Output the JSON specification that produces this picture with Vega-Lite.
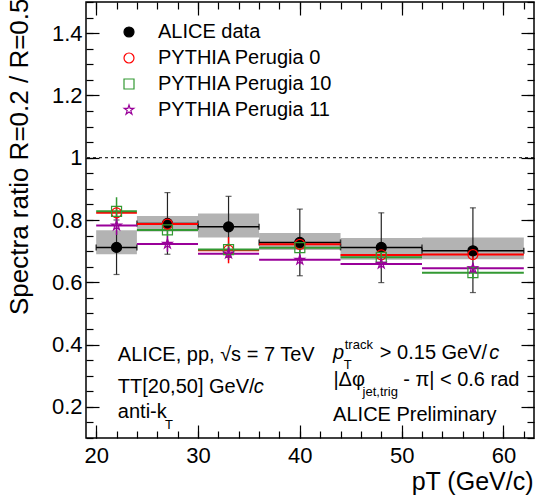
{
  "$schema": "https://vega.github.io/schema/vega-lite/v6.json",
  "width": 448,
  "height": 436,
  "autosize": {"type": "none"},
  "padding": {"left": 86, "top": 2, "right": 3, "bottom": 65},
  "background": "white",
  "config": {
    "font": "Liberation Sans",
    "view": {"stroke": "black", "strokeWidth": 1.5},
    "axis": {"grid": false, "labelColor": "black", "titleColor": "black", "tickColor": "black", "titleFontWeight": "normal"},
    "legend": {
      "orient": "none", "legendX": 33, "legendY": 20, "padding": 0,
      "labelFontSize": 20, "labelColor": "black", "labelOffset": 19, "labelLimit": 400,
      "rowPadding": 6, "symbolSize": 100, "symbolStrokeWidth": 1.2
    }
  },
  "datasets": {
    "points": [
      {"series": "ALICE data", "x": 22, "xlo": 20, "xhi": 24, "y": 0.712, "lo": 0.625, "hi": 0.800, "syslo": 0.690, "syshi": 0.767},
      {"series": "ALICE data", "x": 27, "xlo": 24, "xhi": 30, "y": 0.789, "lo": 0.690, "hi": 0.888, "syslo": 0.763, "syshi": 0.813},
      {"series": "ALICE data", "x": 33, "xlo": 30, "xhi": 36, "y": 0.778, "lo": 0.680, "hi": 0.876, "syslo": 0.744, "syshi": 0.821},
      {"series": "ALICE data", "x": 40, "xlo": 36, "xhi": 44, "y": 0.728, "lo": 0.621, "hi": 0.835, "syslo": 0.704, "syshi": 0.758},
      {"series": "ALICE data", "x": 48, "xlo": 44, "xhi": 52, "y": 0.712, "lo": 0.599, "hi": 0.823, "syslo": 0.672, "syshi": 0.742},
      {"series": "ALICE data", "x": 57, "xlo": 52, "xhi": 62, "y": 0.701, "lo": 0.567, "hi": 0.839, "syslo": 0.674, "syshi": 0.744},
      {"series": "PYTHIA Perugia 0", "x": 22, "xlo": 20, "xhi": 24, "y": 0.823, "lo": 0.803, "hi": 0.843},
      {"series": "PYTHIA Perugia 0", "x": 27, "xlo": 24, "xhi": 30, "y": 0.787, "lo": 0.767, "hi": 0.807},
      {"series": "PYTHIA Perugia 0", "x": 33, "xlo": 30, "xhi": 36, "y": 0.703, "lo": 0.661, "hi": 0.745},
      {"series": "PYTHIA Perugia 0", "x": 40, "xlo": 36, "xhi": 44, "y": 0.722, "lo": 0.707, "hi": 0.737},
      {"series": "PYTHIA Perugia 0", "x": 48, "xlo": 44, "xhi": 52, "y": 0.688, "lo": 0.673, "hi": 0.703},
      {"series": "PYTHIA Perugia 0", "x": 57, "xlo": 52, "xhi": 62, "y": 0.689, "lo": 0.674, "hi": 0.704},
      {"series": "PYTHIA Perugia 10", "x": 22, "xlo": 20, "xhi": 24, "y": 0.828, "lo": 0.783, "hi": 0.873},
      {"series": "PYTHIA Perugia 10", "x": 27, "xlo": 24, "xhi": 30, "y": 0.768, "lo": 0.748, "hi": 0.788},
      {"series": "PYTHIA Perugia 10", "x": 33, "xlo": 30, "xhi": 36, "y": 0.705, "lo": 0.685, "hi": 0.725},
      {"series": "PYTHIA Perugia 10", "x": 40, "xlo": 36, "xhi": 44, "y": 0.711, "lo": 0.696, "hi": 0.726},
      {"series": "PYTHIA Perugia 10", "x": 48, "xlo": 44, "xhi": 52, "y": 0.680, "lo": 0.665, "hi": 0.695},
      {"series": "PYTHIA Perugia 10", "x": 57, "xlo": 52, "xhi": 62, "y": 0.631, "lo": 0.611, "hi": 0.651},
      {"series": "PYTHIA Perugia 11", "x": 22, "xlo": 20, "xhi": 24, "y": 0.782, "lo": 0.752, "hi": 0.812},
      {"series": "PYTHIA Perugia 11", "x": 27, "xlo": 24, "xhi": 30, "y": 0.723, "lo": 0.698, "hi": 0.748},
      {"series": "PYTHIA Perugia 11", "x": 33, "xlo": 30, "xhi": 36, "y": 0.692, "lo": 0.672, "hi": 0.712},
      {"series": "PYTHIA Perugia 11", "x": 40, "xlo": 36, "xhi": 44, "y": 0.672, "lo": 0.657, "hi": 0.687},
      {"series": "PYTHIA Perugia 11", "x": 48, "xlo": 44, "xhi": 52, "y": 0.659, "lo": 0.644, "hi": 0.674},
      {"series": "PYTHIA Perugia 11", "x": 57, "xlo": 52, "xhi": 62, "y": 0.645, "lo": 0.630, "hi": 0.660}
    ],
    "textNormal": [
      {"x": 22.13, "y": 0.348, "text": "ALICE, pp, √s = 7 TeV"},
      {"x": 22.13, "y": 0.2434, "text": "TT[20,50] GeV/"},
      {"x": 22.13, "y": 0.1644, "text": "anti-k"},
      {"x": 47.86, "y": 0.3537, "text": "> 0.15 GeV/"},
      {"x": 43.3, "y": 0.268, "text": "|Δφ"},
      {"x": 50.15, "y": 0.268, "text": "- π| < 0.6 rad"},
      {"x": 43.27, "y": 0.1535, "text": "ALICE Preliminary"}
    ],
    "textItalic": [
      {"x": 35.48, "y": 0.2434, "text": "c"},
      {"x": 43.27, "y": 0.3537, "text": "p"},
      {"x": 58.6, "y": 0.3537, "text": "c"}
    ],
    "textSmall": [
      {"x": 26.75, "y": 0.128, "text": "T"},
      {"x": 44.32, "y": 0.3217, "text": "T"},
      {"x": 44.41, "y": 0.3859, "text": "track"},
      {"x": 46.16, "y": 0.2337, "text": "jet,trig"}
    ]
  },
  "resolve": {"axis": {"x": "independent", "y": "independent"}},
  "layer": [
    {
      "data": {"name": "points"},
      "transform": [{"filter": "datum.series === 'ALICE data'"}],
      "mark": {"type": "rect", "fill": "#b3b3b3"},
      "encoding": {
        "x": {"field": "xlo", "type": "quantitative", "scale": {"domain": [19, 63], "nice": false, "zero": false},
          "axis": {"orient": "bottom", "values": [20, 30, 40, 50, 60], "ticks": false, "domain": false, "labelFontSize": 22, "labelPadding": 7,
            "title": "pT (GeV/c)", "titleFontSize": 25, "titleAnchor": "end", "titleAlign": "right", "titleBaseline": "alphabetic", "titleX": 447, "titleY": 51}},
        "x2": {"field": "xhi"},
        "y": {"field": "syslo", "type": "quantitative", "scale": {"domain": [0.1, 1.5], "nice": false, "zero": false},
          "axis": {"orient": "left", "values": [0.2, 0.4, 0.6, 0.8, 1, 1.2, 1.4], "format": "~g", "ticks": false, "domain": false, "labelFontSize": 22, "labelPadding": 4,
            "title": "Spectra ratio R=0.2 / R=0.5", "titleFontSize": 26, "titleAngle": -90, "titleAnchor": "end", "titleAlign": "right", "titleBaseline": "alphabetic", "titleX": -59, "titleY": -4}},
        "y2": {"field": "syshi"}
      }
    },
    {
      "data": {"values": [{"ref": 1}]},
      "mark": {"type": "rule", "color": "black", "strokeWidth": 1, "strokeDash": [3, 3]},
      "encoding": {
        "y": {"field": "ref", "type": "quantitative", "scale": {"domain": [0.1, 1.5], "nice": false, "zero": false},
          "axis": {"orient": "left", "values": [0.2, 0.4, 0.6, 0.8, 1, 1.2, 1.4], "labels": false, "domain": false, "title": null, "tickSize": 13, "offset": -13, "tickWidth": 1.2}}
      }
    },
    {
      "data": {"name": "points"},
      "transform": [{"filter": "datum.series === 'ALICE data'"}],
      "mark": {"type": "rule", "color": "black", "strokeWidth": 1.5},
      "encoding": {
        "x": {"field": "xlo", "type": "quantitative", "scale": {"domain": [19, 63], "nice": false, "zero": false},
          "axis": {"orient": "bottom", "values": [20, 30, 40, 50, 60], "labels": false, "domain": false, "title": null, "tickSize": 13, "offset": -13, "tickWidth": 1.2}},
        "x2": {"field": "xhi"},
        "y": {"field": "y", "type": "quantitative", "scale": {"domain": [0.1, 1.5], "nice": false, "zero": false},
          "axis": {"orient": "left", "values": [0.1, 0.15, 0.2, 0.25, 0.3, 0.35, 0.4, 0.45, 0.5, 0.55, 0.6, 0.65, 0.7, 0.75, 0.8, 0.85, 0.9, 0.95, 1, 1.05, 1.1, 1.15, 1.2, 1.25, 1.3, 1.35, 1.4, 1.45, 1.5], "labels": false, "domain": false, "title": null, "tickSize": 7, "offset": -7, "tickWidth": 1.2}}
      }
    },
    {
      "data": {"name": "points"},
      "transform": [{"filter": "datum.series === 'ALICE data'"}],
      "mark": {"type": "tick", "orient": "vertical", "color": "black", "size": 6, "thickness": 1.5},
      "encoding": {
        "x": {"field": "xlo", "type": "quantitative", "scale": {"domain": [19, 63], "nice": false, "zero": false},
          "axis": {"orient": "bottom", "values": [20, 22, 24, 26, 28, 30, 32, 34, 36, 38, 40, 42, 44, 46, 48, 50, 52, 54, 56, 58, 60, 62], "labels": false, "domain": false, "title": null, "tickSize": 7, "offset": -7, "tickWidth": 1.2}},
        "y": {"field": "y", "type": "quantitative", "scale": {"domain": [0.1, 1.5], "nice": false, "zero": false},
          "axis": {"orient": "right", "values": [0.2, 0.4, 0.6, 0.8, 1, 1.2, 1.4], "labels": false, "domain": false, "title": null, "tickSize": 13, "offset": -13, "tickWidth": 1.2}}
      }
    },
    {
      "data": {"name": "points"},
      "transform": [{"filter": "datum.series === 'ALICE data'"}],
      "mark": {"type": "tick", "orient": "vertical", "color": "black", "size": 6, "thickness": 1.5},
      "encoding": {
        "x": {"field": "xhi", "type": "quantitative", "scale": {"domain": [19, 63], "nice": false, "zero": false},
          "axis": {"orient": "top", "values": [20, 30, 40, 50, 60], "labels": false, "domain": false, "title": null, "tickSize": 13, "offset": -13, "tickWidth": 1.2}},
        "y": {"field": "y", "type": "quantitative", "scale": {"domain": [0.1, 1.5], "nice": false, "zero": false},
          "axis": {"orient": "right", "values": [0.1, 0.15, 0.2, 0.25, 0.3, 0.35, 0.4, 0.45, 0.5, 0.55, 0.6, 0.65, 0.7, 0.75, 0.8, 0.85, 0.9, 0.95, 1, 1.05, 1.1, 1.15, 1.2, 1.25, 1.3, 1.35, 1.4, 1.45, 1.5], "labels": false, "domain": false, "title": null, "tickSize": 7, "offset": -7, "tickWidth": 1.2}}
      }
    },
    {
      "data": {"name": "points"},
      "transform": [{"filter": "datum.series === 'ALICE data'"}],
      "mark": {"type": "rule", "color": "#222222", "strokeWidth": 1.2},
      "encoding": {
        "x": {"field": "x", "type": "quantitative", "scale": {"domain": [19, 63], "nice": false, "zero": false},
          "axis": {"orient": "top", "values": [20, 22, 24, 26, 28, 30, 32, 34, 36, 38, 40, 42, 44, 46, 48, 50, 52, 54, 56, 58, 60, 62], "labels": false, "domain": false, "title": null, "tickSize": 7, "offset": -7, "tickWidth": 1.2}},
        "y": {"field": "lo", "type": "quantitative", "scale": {"domain": [0.1, 1.5], "nice": false, "zero": false}, "axis": null},
        "y2": {"field": "hi"}
      }
    },
    {
      "data": {"name": "points"},
      "transform": [{"filter": "datum.series === 'ALICE data'"}],
      "mark": {"type": "tick", "orient": "horizontal", "color": "#222222", "size": 6, "thickness": 1.2},
      "encoding": {
        "x": {"field": "x", "type": "quantitative", "scale": {"domain": [19, 63], "nice": false, "zero": false}, "axis": null},
        "y": {"field": "lo", "type": "quantitative", "scale": {"domain": [0.1, 1.5], "nice": false, "zero": false}, "axis": null}
      }
    },
    {
      "data": {"name": "points"},
      "transform": [{"filter": "datum.series === 'ALICE data'"}],
      "mark": {"type": "tick", "orient": "horizontal", "color": "#222222", "size": 6, "thickness": 1.2},
      "encoding": {
        "x": {"field": "x", "type": "quantitative", "scale": {"domain": [19, 63], "nice": false, "zero": false}, "axis": null},
        "y": {"field": "hi", "type": "quantitative", "scale": {"domain": [0.1, 1.5], "nice": false, "zero": false}, "axis": null}
      }
    },
    {
      "data": {"name": "points"},
      "transform": [{"filter": "datum.series !== 'ALICE data'"}],
      "mark": {"type": "rule", "strokeWidth": 2},
      "encoding": {
        "x": {"field": "xlo", "type": "quantitative", "scale": {"domain": [19, 63], "nice": false, "zero": false}, "axis": null},
        "x2": {"field": "xhi"},
        "y": {"field": "y", "type": "quantitative", "scale": {"domain": [0.1, 1.5], "nice": false, "zero": false}, "axis": null},
        "color": {"field": "series", "type": "nominal", "legend": null,
          "scale": {"domain": ["PYTHIA Perugia 0", "PYTHIA Perugia 10", "PYTHIA Perugia 11"], "range": ["#ff0000", "#339933", "#990099"]}}
      }
    },
    {
      "data": {"name": "points"},
      "transform": [{"filter": "datum.series !== 'ALICE data'"}],
      "mark": {"type": "rule", "strokeWidth": 1.5},
      "encoding": {
        "x": {"field": "x", "type": "quantitative", "scale": {"domain": [19, 63], "nice": false, "zero": false}, "axis": null},
        "y": {"field": "lo", "type": "quantitative", "scale": {"domain": [0.1, 1.5], "nice": false, "zero": false}, "axis": null},
        "y2": {"field": "hi"},
        "color": {"field": "series", "type": "nominal", "legend": null,
          "scale": {"domain": ["PYTHIA Perugia 0", "PYTHIA Perugia 10", "PYTHIA Perugia 11"], "range": ["#ff0000", "#339933", "#990099"]}}
      }
    },
    {
      "data": {"name": "points"},
      "mark": {"type": "point", "size": 100, "strokeWidth": 1.2, "opacity": 1},
      "encoding": {
        "x": {"field": "x", "type": "quantitative", "scale": {"domain": [19, 63], "nice": false, "zero": false}, "axis": null},
        "y": {"field": "y", "type": "quantitative", "scale": {"domain": [0.1, 1.5], "nice": false, "zero": false}, "axis": null},
        "shape": {"field": "series", "type": "nominal", "legend": {"title": null},
          "scale": {"domain": ["ALICE data", "PYTHIA Perugia 0", "PYTHIA Perugia 10", "PYTHIA Perugia 11"],
            "range": ["circle", "circle", "square", "M0,-1L0.223,-0.307L0.951,-0.309L0.361,0.117L0.588,0.809L0,0.38L-0.588,0.809L-0.361,0.117L-0.951,-0.309L-0.223,-0.307Z"]}},
        "stroke": {"field": "series", "type": "nominal", "legend": {"title": null},
          "scale": {"domain": ["ALICE data", "PYTHIA Perugia 0", "PYTHIA Perugia 10", "PYTHIA Perugia 11"], "range": ["#000000", "#ff0000", "#339933", "#990099"]}},
        "fill": {"field": "series", "type": "nominal", "legend": {"title": null},
          "scale": {"domain": ["ALICE data", "PYTHIA Perugia 0", "PYTHIA Perugia 10", "PYTHIA Perugia 11"], "range": ["#000000", "transparent", "transparent", "transparent"]}}
      }
    },
    {
      "data": {"name": "textNormal"},
      "mark": {"type": "text", "align": "left", "baseline": "alphabetic", "fontSize": 20, "color": "black"},
      "encoding": {
        "x": {"field": "x", "type": "quantitative", "scale": {"domain": [19, 63], "nice": false, "zero": false}, "axis": null},
        "y": {"field": "y", "type": "quantitative", "scale": {"domain": [0.1, 1.5], "nice": false, "zero": false}, "axis": null},
        "text": {"field": "text"}
      }
    },
    {
      "data": {"name": "textItalic"},
      "mark": {"type": "text", "align": "left", "baseline": "alphabetic", "fontSize": 20, "fontStyle": "italic", "color": "black"},
      "encoding": {
        "x": {"field": "x", "type": "quantitative", "scale": {"domain": [19, 63], "nice": false, "zero": false}, "axis": null},
        "y": {"field": "y", "type": "quantitative", "scale": {"domain": [0.1, 1.5], "nice": false, "zero": false}, "axis": null},
        "text": {"field": "text"}
      }
    },
    {
      "data": {"name": "textSmall"},
      "mark": {"type": "text", "align": "left", "baseline": "alphabetic", "fontSize": 13, "color": "black"},
      "encoding": {
        "x": {"field": "x", "type": "quantitative", "scale": {"domain": [19, 63], "nice": false, "zero": false}, "axis": null},
        "y": {"field": "y", "type": "quantitative", "scale": {"domain": [0.1, 1.5], "nice": false, "zero": false}, "axis": null},
        "text": {"field": "text"}
      }
    }
  ]
}
